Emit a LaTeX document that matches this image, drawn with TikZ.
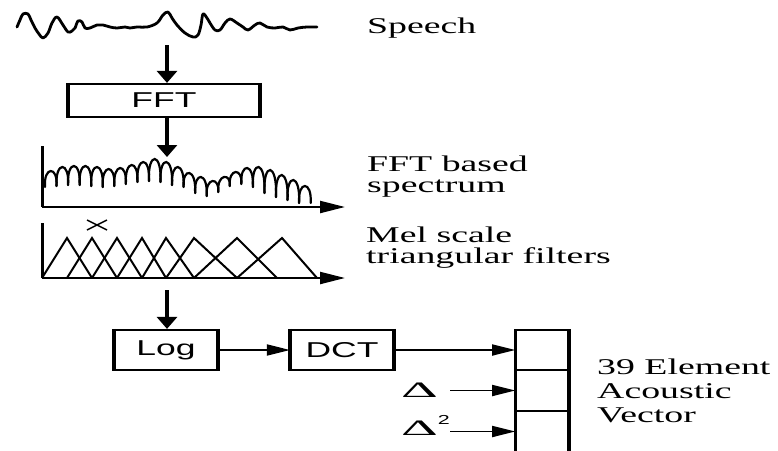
\documentclass[tikz,border=0pt]{standalone}
\usepackage{fontspec}
\setmainfont{Liberation Serif}
\newfontfamily\lblfont[FakeStretch=1.68]{Liberation Serif}
\newfontfamily\boxfont[FakeStretch=1.65]{Liberation Sans}
\newfontfamily\deltafont[FakeStretch=2.6]{Liberation Serif}
\usetikzlibrary{arrows.meta}
\begin{document}
\begin{tikzpicture}[x=1pt,y=-1pt,
  lbl/.style={anchor=base west, inner sep=0pt, font=\lblfont\fontsize{22.5}{24}\selectfont},
  procbox/.style={draw, line width=2.2pt, inner sep=0pt, font=\boxfont\fontsize{21.5}{22}\selectfont},
  deltalbl/.style={anchor=base west, inner sep=0pt, font=\deltafont\fontsize{22}{24}\selectfont},
  cell/.style={draw, line width=1.6pt, minimum width=52pt, inner sep=0pt},
  side/.style={line width=3.4pt},
  vflow/.style={line width=3.2pt, -{Triangle[length=12pt,width=20pt]}},
  hflow/.style={line width=1.8pt, -{Triangle[length=23pt,width=11pt]}},
  axisline/.style={line width=2.2pt, -{Triangle[length=25pt,width=12pt]}},
  yaxis/.style={line width=3pt},
  wave/.style={line width=2.8pt, line join=round, line cap=round},
  spec/.style={line width=2.2pt, line cap=round},
  filt/.style={line width=2pt, line join=miter}
]
\useasboundingbox (0,0) rectangle (778,450);
\fill[white] (0,0) rectangle (778,450);
\clip (0,0) rectangle (778,450);

% speech waveform
\draw[wave] plot[smooth, tension=0.6] coordinates {
(17,27) (20,20) (23,14) (28,14) (31,20) (35,28) (39,34) (43,38) (48,33) (52,23) (57,17) (63,25) (68,32) (72,31) (75,28) (78,21) (82,22) (85,28) (90,28) (97,25) (103,25) (110,27) (117,28) (125,27) (130,28) (137,27) (147,27) (157,23) (163,15) (168,12) (172,18) (177,25) (185,33) (193,37) (198,35) (201,25) (203,14) (207,18) (210,23) (215,30) (220,30) (225,23) (230,19) (237,23) (243,27) (248,30) (255,25) (260,23) (267,27) (275,28) (283,27) (290,30) (298,28) (307,27) (317,27)};
\node[lbl] (speech) at (367,33) {Speech};

% FFT box
\coordinate (wavebot) at (167,45);
\node[procbox, minimum width=190pt, minimum height=33pt] (fft) at (164,100.5) {FFT};
\draw[side] (fft.north west) -- (fft.south west);
\draw[side] (fft.north east) -- (fft.south east);
\draw[vflow] (wavebot) -- (wavebot |- fft.north);

% spectrum
\coordinate (spectop) at (167,157);
\draw[vflow] (fft.south -| spectop) -- (spectop);
\draw[yaxis] (42,146) -- (42,207);
\draw[axisline] (42,207) -- (345,207);
\def\spectop{{171,167,166,166,167,169,168,165,162,159,162,167,173,177,181,177,172,168,167,170,175,180,186}}
\def\specbot{{187,186,185,185,186,187,186,184,182,181,182,185,187,193,196,192,186,184,187,193,197,200,203,203}}
\foreach \i in {0,...,22}{
  \pgfmathsetmacro\xa{45+11.55*\i}
  \pgfmathsetmacro\xb{45+11.55*(\i+1)}
  \pgfmathsetmacro\ba{\specbot[\i]}
  \pgfmathsetmacro\bb{\specbot[\i+1]}
  \pgfmathsetmacro\tt{\spectop[\i]}
  \pgfmathsetmacro\cc{(\tt-0.125*(\ba+\bb))/0.75}
  \draw[spec] (\xa,\ba) .. controls (\xa-1.5,\cc) and (\xb+1.5,\cc) .. (\xb,\bb);
}
\node[lbl] (spec1) at (367,171) {FFT based};
\node[lbl] (spec2) at (367,192) {spectrum};

% mel filters
\draw[yaxis] (42,223) -- (42,278);
\draw[axisline] (42,278) -- (345,278);
\foreach \l/\a/\r in {42/67/92, 67/92/117, 92/117/142, 117/142/166, 142/166/194, 166/194/237, 194/237/277, 237/282/317}{
  \draw[filt] (\l,278) -- (\a,238) -- (\r,278);
}
\draw[line width=1.5pt] (87,220) -- (107,230) (87,230) -- (107,220);
\node[lbl] (mel1) at (366,242) {Mel scale};
\node[lbl] (mel2) at (366,263) {triangular filters};

% Log, DCT
\coordinate (melbot) at (167,290);
\node[procbox, minimum width=102pt, minimum height=40pt] (log) at (166,350) {Log};
\node[procbox, minimum width=102pt, minimum height=40pt] (dct) at (342,350) {DCT};
\foreach \n in {log,dct}{
  \draw[side] (\n.north west) -- (\n.south west);
  \draw[side] (\n.north east) -- (\n.south east);
}
\draw[vflow] (melbot) -- (melbot |- log.north);
\draw[hflow] (log.east) -- (dct.west);

% vector
\node[cell, minimum height=40pt] (v1) at (542,350) {};
\node[cell, minimum height=41pt] (v2) at (542,390.5) {};
\node[cell, minimum height=41pt] (v3) at (542,431.5) {};
\draw[side] (v1.north west) -- (v3.south west);
\draw[side] (v1.north east) -- (v3.south east);
\draw[hflow] (dct.east) -- (v1.west);

\node[deltalbl] (d1) at (401,397) {Δ\phantom{\raisebox{11pt}{\boxfont\fontsize{13}{13}\selectfont 2}}};
\node[deltalbl] (d2) at (401,435) {Δ\raisebox{11pt}{\boxfont\fontsize{13}{13}\selectfont 2}};
\draw[hflow] (d1.east |- v2.west) -- (v2.west);
\draw[hflow] (d2.east |- v3.west) -- (v3.west);

\node[lbl] (vec1) at (597,374) {39 Element};
\node[lbl] (vec2) at (597,398) {Acoustic};
\node[lbl] (vec3) at (597,422) {Vector};
\end{tikzpicture}
\end{document}
